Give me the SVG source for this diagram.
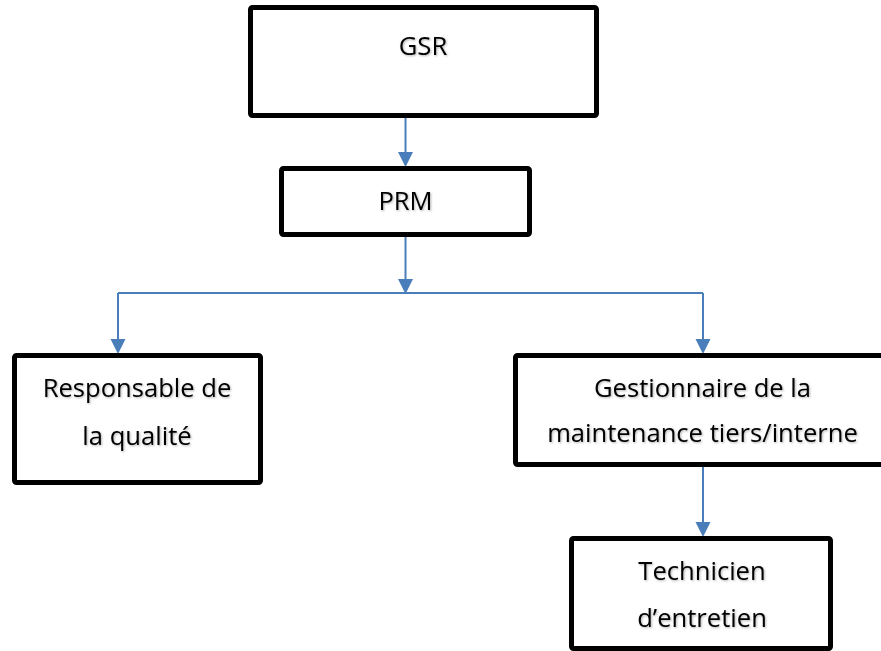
<svg xmlns="http://www.w3.org/2000/svg" width="881" height="651" viewBox="0 0 881 651">
<style>
.box{fill:#ffffff;stroke:#000000;stroke-width:5;stroke-linejoin:round}
.lbl{font-family:"Open Sans","Liberation Sans",Arial,sans-serif;font-size:25.6px;fill:#000000;text-anchor:middle;filter:url(#ts)}
.con{fill:none;stroke:#4A7EBB;stroke-width:2}
.ah{fill:#4A7EBB}
</style>
<defs>
<filter id="ts" x="-10%" y="-20%" width="130%" height="150%">
<feDropShadow dx="1" dy="1" stdDeviation="0.8" flood-color="#000000" flood-opacity="0.3"/>
</filter>
</defs>
<rect width="881" height="651" fill="#ffffff"/>
<g id="connectors">
<path class="con" d="M405.5,118 L405.5,152"/>
<path class="ah" d="M398,152 L413,152 L405.5,167 Z"/>
<path class="con" d="M405.5,236 L405.5,279"/>
<path class="ah" d="M398,279 L413,279 L405.5,294 Z"/>
<path class="con" d="M118,293 L703,293"/>
<path class="con" d="M118,293 L118,339"/>
<path class="ah" d="M110.5,339 L125.5,339 L118,354 Z"/>
<path class="con" d="M703,293 L703,339"/>
<path class="ah" d="M695.5,339 L710.5,339 L703,354 Z"/>
<path class="con" d="M703,467 L703,522"/>
<path class="ah" d="M695.5,522 L710.5,522 L703,537 Z"/>
</g>
<g id="gsr">
<rect class="box" x="250.5" y="7.5" width="346" height="108" rx="2"/>
<text class="lbl" x="423" y="55">GSR</text>
</g>
<g id="prm">
<rect class="box" x="281.5" y="168.5" width="248" height="66" rx="2"/>
<text class="lbl" x="405.5" y="210">PRM</text>
</g>
<g id="responsable">
<rect class="box" x="14.5" y="355.5" width="246" height="127" rx="2"/>
<text class="lbl" x="137" y="397">Responsable de</text>
<text class="lbl" x="137" y="445">la qualité</text>
</g>
<g id="gestionnaire">
<rect class="box" x="515.5" y="355.5" width="380" height="109" rx="2"/>
<text class="lbl" x="702.5" y="397">Gestionnaire de la</text>
<text class="lbl" x="702.5" y="442">maintenance tiers/interne</text>
</g>
<g id="technicien">
<rect class="box" x="571.5" y="538.5" width="259" height="110" rx="2"/>
<text class="lbl" x="702" y="580">Technicien</text>
<text class="lbl" x="702" y="627">d’entretien</text>
</g>
</svg>
